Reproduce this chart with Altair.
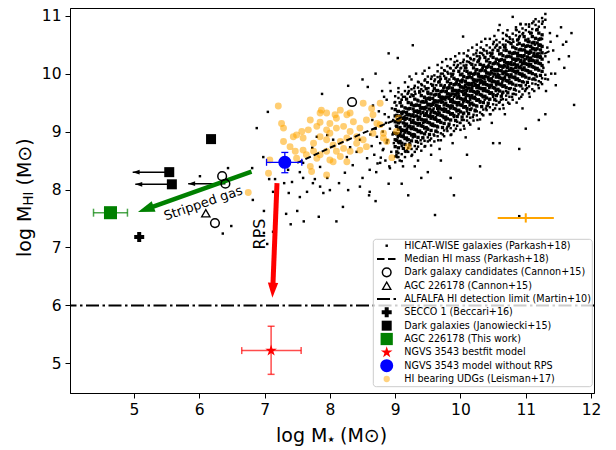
import math
import altair as alt
import pandas as pd

# ------------------------------------------------------------------ data
HICAT = [
 (8.62,8.95),(8.65,9.2),(8.68,8.6),(8.7,9.05),(8.73,8.45),(8.75,9.35),(8.77,8.8),(8.79,9.1),(8.64,8.75),(8.71,8.3),(8.66,9.45),(8.78,8.55),
 (8.81,9.0),(8.82,8.7),(8.84,9.3),(8.85,8.5),(8.86,9.15),(8.87,9.55),(8.88,8.85),(8.9,9.25),(8.91,8.4),(8.92,9.05),(8.93,9.7),(8.94,8.65),(8.95,9.4),(8.96,8.95),(8.97,9.2),(8.98,8.8),(8.99,9.5),(8.83,9.6),
 (9.01,9.1),(9.02,8.6),(9.03,9.35),(9.04,8.9),(9.05,9.75),(9.06,9.2),(9.07,8.5),(9.08,9.5),(9.09,9.0),(9.1,8.75),(9.11,9.3),(9.12,9.6),(9.13,8.95),(9.14,9.15),(9.15,9.85),(9.16,8.65),(9.17,9.4),(9.18,9.05),(9.19,9.65),(9.02,9.45),(9.06,8.8),(9.1,9.55),(9.14,9.25),(9.18,8.85),(9.12,8.4),
 (9.21,9.3),(9.22,8.8),(9.23,9.6),(9.24,9.05),(9.25,9.9),(9.26,8.6),(9.27,9.45),(9.28,9.15),(9.29,9.75),(9.3,8.95),(9.31,9.35),(9.32,10.0),(9.33,8.7),(9.34,9.55),(9.35,9.2),(9.36,9.85),(9.37,9.0),(9.38,9.4),(9.39,8.85),(9.21,9.7),(9.23,9.1),(9.25,9.5),(9.27,8.9),(9.29,9.25),(9.31,9.65),(9.33,9.45),(9.35,8.5),(9.37,9.7),(9.39,9.3),(9.22,9.95),
 (9.41,9.4),(9.42,8.9),(9.43,9.7),(9.44,9.2),(9.45,10.05),(9.46,8.75),(9.47,9.55),(9.48,9.3),(9.49,9.85),(9.5,9.05),(9.51,9.45),(9.52,10.1),(9.53,8.85),(9.54,9.65),(9.55,9.25),(9.56,9.95),(9.57,9.1),(9.58,9.5),(9.59,8.95),(9.41,9.8),(9.43,9.15),(9.45,9.6),(9.47,9.0),(9.49,9.35),(9.51,9.75),(9.53,9.55),(9.55,8.6),(9.57,9.8),(9.59,9.4),(9.42,10.0),(9.44,9.5),(9.46,9.9),(9.5,9.65),(9.54,9.3),(9.58,9.7),
 (9.61,9.5),(9.62,9.0),(9.63,9.8),(9.64,9.3),(9.65,10.15),(9.66,8.85),(9.67,9.65),(9.68,9.4),(9.69,9.95),(9.7,9.15),(9.71,9.55),(9.72,10.2),(9.73,8.95),(9.74,9.75),(9.75,9.35),(9.76,10.05),(9.77,9.2),(9.78,9.6),(9.79,9.05),(9.61,9.9),(9.62,9.25),(9.63,9.7),(9.64,9.1),(9.65,9.45),(9.66,9.85),(9.67,9.6),(9.68,8.7),(9.69,9.9),(9.7,9.5),(9.71,10.1),(9.72,9.6),(9.73,10.0),(9.74,9.75),(9.75,9.4),(9.76,9.8),(9.77,9.55),(9.78,10.25),(9.79,9.7),(9.66,9.35),(9.74,9.25),
 (9.81,9.6),(9.82,9.1),(9.83,9.9),(9.84,9.4),(9.85,10.25),(9.86,8.95),(9.87,9.75),(9.88,9.5),(9.89,10.05),(9.9,9.25),(9.91,9.65),(9.92,10.3),(9.93,9.05),(9.94,9.85),(9.95,9.45),(9.96,10.15),(9.97,9.3),(9.98,9.7),(9.99,9.15),(9.81,10.0),(9.82,9.35),(9.83,9.8),(9.84,9.2),(9.85,9.55),(9.86,9.95),(9.87,9.7),(9.88,8.8),(9.89,10.0),(9.9,9.6),(9.91,10.2),(9.92,9.7),(9.93,10.1),(9.94,9.85),(9.95,9.5),(9.96,9.9),(9.97,9.65),(9.98,10.35),(9.99,9.8),(9.86,9.45),(9.94,9.35),(9.82,9.75),(9.88,9.55),(9.92,9.9),(9.96,9.6),(9.84,10.1),
 (10.01,9.7),(10.02,9.2),(10.03,10.0),(10.04,9.5),(10.05,10.35),(10.06,9.05),(10.07,9.85),(10.08,9.6),(10.09,10.15),(10.1,9.35),(10.11,9.75),(10.12,10.4),(10.13,9.15),(10.14,9.95),(10.15,9.55),(10.16,10.25),(10.17,9.4),(10.18,9.8),(10.19,9.25),(10.01,10.1),(10.02,9.45),(10.03,9.9),(10.04,9.3),(10.05,9.65),(10.06,10.05),(10.07,9.8),(10.08,8.9),(10.09,10.1),(10.1,9.7),(10.11,10.3),(10.12,9.8),(10.13,10.2),(10.14,9.95),(10.15,9.6),(10.16,10.0),(10.17,9.75),(10.18,10.45),(10.19,9.9),(10.06,9.55),(10.14,9.45),(10.02,9.85),(10.08,9.65),(10.12,10.0),(10.16,9.7),(10.04,10.2),
 (10.21,9.85),(10.22,9.35),(10.23,10.15),(10.24,9.65),(10.25,10.5),(10.26,9.2),(10.27,10.0),(10.28,9.75),(10.29,10.3),(10.3,9.5),(10.31,9.9),(10.32,10.55),(10.33,9.3),(10.34,10.1),(10.35,9.7),(10.36,10.4),(10.37,9.55),(10.38,9.95),(10.39,9.4),(10.21,10.25),(10.22,9.6),(10.23,10.05),(10.24,9.45),(10.25,9.8),(10.26,10.2),(10.27,9.95),(10.28,9.05),(10.29,10.25),(10.3,9.85),(10.31,10.45),(10.32,9.95),(10.33,10.35),(10.34,10.1),(10.35,9.75),(10.36,10.15),(10.37,9.9),(10.38,10.6),(10.39,10.05),(10.26,9.7),(10.34,9.6),(10.22,10.0),(10.28,9.8),(10.32,10.15),(10.36,9.85),(10.24,10.35),
 (10.41,9.95),(10.42,9.45),(10.43,10.25),(10.44,9.75),(10.45,10.6),(10.46,9.3),(10.47,10.1),(10.48,9.85),(10.49,10.4),(10.5,9.6),(10.51,10.0),(10.52,10.65),(10.53,9.4),(10.54,10.2),(10.55,9.8),(10.56,10.5),(10.57,9.65),(10.58,10.05),(10.59,9.5),(10.41,10.35),(10.42,9.7),(10.43,10.15),(10.44,9.55),(10.45,9.9),(10.46,10.3),(10.47,10.05),(10.48,9.15),(10.49,10.35),(10.5,9.95),(10.51,10.55),(10.52,10.05),(10.53,10.45),(10.54,10.2),(10.55,9.85),(10.56,10.25),(10.57,10.0),(10.58,10.75),(10.59,10.15),(10.46,9.8),(10.54,9.7),
 (10.61,10.05),(10.62,9.55),(10.63,10.35),(10.64,9.85),(10.65,10.7),(10.66,9.4),(10.67,10.2),(10.68,9.95),(10.69,10.5),(10.7,9.7),(10.71,10.1),(10.72,10.75),(10.73,9.5),(10.74,10.3),(10.75,9.9),(10.76,10.6),(10.77,9.75),(10.78,10.15),(10.79,9.6),(10.61,10.45),(10.62,9.8),(10.63,10.25),(10.64,9.65),(10.65,10.0),(10.66,10.4),(10.67,10.15),(10.68,9.3),(10.69,10.45),(10.7,10.05),(10.71,10.65),(10.72,10.15),(10.73,10.55),(10.74,10.3),(10.75,9.95),(10.76,10.35),
 (10.81,10.15),(10.82,9.65),(10.83,10.45),(10.84,9.95),(10.85,10.8),(10.86,9.5),(10.87,10.3),(10.88,10.05),(10.89,10.6),(10.9,9.8),(10.91,10.2),(10.92,10.85),(10.93,9.6),(10.94,10.4),(10.95,10.0),(10.96,10.7),(10.97,9.85),(10.98,10.25),(10.99,9.7),(10.81,10.55),(10.83,10.35),(10.85,10.1),(10.87,10.5),(10.89,10.25),(10.91,10.65),(10.93,10.3),(10.95,9.4),(10.97,10.5),(10.99,10.4),(10.86,10.75),
 (11.01,10.25),(11.02,9.75),(11.03,10.55),(11.04,10.05),(11.05,10.85),(11.06,9.6),(11.07,10.4),(11.08,10.15),(11.09,10.7),(11.1,9.9),(11.11,10.3),(11.12,10.9),(11.13,9.7),(11.14,10.5),(11.15,10.1),(11.16,10.75),(11.17,9.95),(11.18,10.35),(11.19,9.8),(11.04,10.6),(11.1,10.45),(11.16,10.2),
 (11.21,10.35),(11.23,9.85),(11.25,10.6),(11.27,10.1),(11.29,10.8),(11.31,9.7),(11.33,10.45),(11.35,10.2),(11.37,10.7),(11.39,10.0),(11.22,10.5),(11.26,10.9),(11.3,10.3),(11.34,9.9),(11.38,10.55),
 (11.42,10.4),(11.45,10.0),(11.48,10.65),(11.51,10.25),(11.54,10.8),(11.57,10.5),(11.46,9.8),(11.59,10.1),
 (11.62,10.55),(11.66,10.3),(11.7,10.7),(11.74,9.46),
 (10.8,10.98),(10.92,10.86),(10.6,10.84),(10.04,10.64),(9.27,10.49),(9.04,10.27),(8.92,9.84),(8.7,10.0),(8.9,10.35),(8.5,9.9),(8.8,9.7),
 (9.61,7.56),(10.9,7.54),(9.85,8.2),(10.3,8.4),(10.9,8.7),(11.3,9.3),(11.0,9.05),(10.6,8.8),(9.4,8.2),(9.1,8.1),(8.6,7.9),(9.9,7.9),
 (8.2,7.7),(8.7,7.8),(9.2,7.9),(8.9,8.1),(9.5,8.3),(9.7,8.5),(10.1,8.6),(10.5,8.8),(11.2,9.2),(9.3,8.4),(8.5,8.2),(8.1,7.45),(7.6,7.45),
 (6.44,8.37),(6.81,8.37),(6.01,8.23),(6.82,7.82),(6.99,7.63),(6.49,7.37),(6.36,7.24),(6.99,7.25),(7.04,7.06),(6.98,8.56),(7.13,7.96),
 (7.13,7.27),(7.4,7.4),(7.33,7.58),(7.5,7.63),(7.42,8.13),(7.65,7.96),(7.83,7.53),(7.9,7.94),(7.59,8.2),(7.74,8.11),(7.96,8.2),
 (7.36,8.34),(7.07,8.18),(7.16,8.18),(8.28,9.79),(8.58,9.77),(7.88,9.65),(7.05,9.34),(6.88,9.06),(7.3,8.11),(7.37,7.94),(7.54,7.87),
 (7.77,8.18),(7.85,8.05),(8.0,7.99),(8.14,8.11),(8.28,7.99),(8.46,8.05),(8.61,7.96),(8.23,8.29),(8.35,8.42),(8.61,8.34),(8.77,8.46),
 (8.92,8.37),(9.03,8.56),(9.18,8.68),(8.57,8.54),(8.41,8.65),(8.31,8.73),(8.81,8.68),(8.05,8.86),(7.96,8.94),(7.80,8.91),(7.73,8.72),
 (7.59,8.46),(7.54,8.3),(7.85,8.39),(8.26,8.56),(8.46,8.86),(8.72,8.91),(8.87,8.81),(8.97,8.98),
]

# fringe of the HICAT core: (log M*, [log MHI values])
HICAT_FRINGE = [
 (9.00,[8.47,8.57,9.51,9.61]),(9.05,[8.56,8.63,9.58,9.68]),(9.10,[8.49,8.61,9.55,9.64]),(9.15,[8.56,8.66,9.60,9.70]),
 (9.20,[8.65,8.72,9.67,9.77]),(9.25,[8.58,8.70,9.64,9.73]),(9.30,[8.65,8.75,9.69,9.79]),(9.35,[8.74,8.81,9.76,9.86]),
 (9.40,[8.67,8.79,9.73,9.82]),(9.45,[8.74,8.84,9.78,9.88]),(9.50,[8.83,8.90,9.85,9.95]),(9.55,[8.76,8.88,9.82,9.91]),
 (9.60,[8.83,8.93,9.87,9.97]),(9.65,[8.92,8.99,9.94,10.04]),(9.70,[8.85,8.97,9.91,10.00]),(9.75,[8.92,9.02,9.96,10.06]),
 (9.80,[9.01,9.08,10.03,10.13]),(9.85,[8.94,9.06,10.00,10.09]),(9.90,[9.01,9.11,10.05,10.15]),(9.95,[9.10,9.17,10.12,10.22]),
 (10.00,[9.03,9.15,10.09,10.18]),(10.05,[9.10,9.20,10.14,10.24]),(10.10,[9.19,9.26,10.21,10.31]),(10.15,[9.12,9.24,10.18,10.27]),
 (10.20,[9.19,9.29,10.23,10.33]),(10.25,[9.28,9.35,10.30,10.40]),(10.30,[9.21,9.33,10.27,10.36]),(10.35,[9.28,9.38,10.32,10.42]),
 (10.40,[9.37,9.44,10.39,10.49]),(10.45,[9.30,9.42,10.36,10.45]),(10.50,[9.37,9.47,10.41,10.51]),(10.55,[9.46,9.53,10.48,10.58]),
 (10.60,[9.39,9.51,10.45,10.54]),(10.65,[9.46,9.56,10.50,10.60]),(10.70,[9.55,9.62,10.57,10.67]),(10.75,[9.48,9.60,10.54,10.63]),
 (10.80,[9.55,9.65,10.59,10.69]),(10.85,[9.64,9.71,10.66,10.76]),(10.90,[9.57,9.69,10.63,10.72]),(10.95,[9.64,9.74,10.68,10.78]),
 (11.00,[9.73,9.80,10.75,10.85]),(11.05,[9.66,9.78,10.72,10.81]),(11.10,[9.73,9.83,10.77,10.87]),(11.15,[9.82,9.89,10.84,10.94]),
 (11.20,[9.75,9.87,10.81,10.90]),(11.25,[9.82,9.92,10.86,10.96]),(11.30,[9.91,9.98,10.93,11.03]),
]

# dense core of the HICAT cloud: (log M*, [log MHI values])
HICAT_CORE = [
 (9.000,[8.74,8.97,9.17,9.38,8.86,9.27]),(9.025,[8.85,9.09,9.28,8.65,8.96,9.17]),(9.050,[8.93,9.15,9.35,8.72,8.82,9.04]),
 (9.075,[8.83,9.07,9.27,9.50,8.96,9.17]),(9.100,[8.80,9.03,9.23,9.44,8.92,9.33]),(9.125,[8.91,9.15,9.34,8.71,9.02,9.23]),
 (9.150,[8.99,9.21,9.41,8.78,8.88,9.10]),(9.175,[8.89,9.13,9.33,9.56,9.02,9.23]),(9.200,[8.86,9.09,9.29,9.50,8.98,9.39]),
 (9.225,[8.97,9.21,9.40,8.77,9.08,9.29]),(9.250,[9.05,9.27,9.47,8.84,8.94,9.16]),(9.275,[8.95,9.19,9.39,9.62,9.08,9.29]),
 (9.300,[8.92,9.15,9.35,9.56,9.04,9.45]),(9.325,[9.03,9.27,9.46,8.83,9.14,9.35]),(9.350,[9.11,9.33,9.53,8.90,9.00,9.22]),
 (9.375,[9.01,9.25,9.45,9.68,9.14,9.35]),(9.400,[8.98,9.21,9.41,9.62,9.10,9.51]),(9.425,[9.09,9.33,9.52,8.89,9.20,9.41]),
 (9.450,[9.17,9.39,9.59,8.96,9.06,9.28]),(9.475,[9.07,9.31,9.51,9.74,9.20,9.41]),(9.500,[9.04,9.27,9.47,9.68,9.16,9.57]),
 (9.525,[9.15,9.39,9.58,8.95,9.26,9.47]),(9.550,[9.23,9.45,9.65,9.02,9.12,9.34]),(9.575,[9.13,9.37,9.57,9.80,9.26,9.47]),
 (9.600,[9.10,9.33,9.53,9.74,9.22,9.63]),(9.625,[9.21,9.45,9.64,9.01,9.32,9.53]),(9.650,[9.29,9.51,9.71,9.08,9.18,9.40]),
 (9.675,[9.19,9.43,9.63,9.86,9.32,9.53]),(9.700,[9.16,9.39,9.59,9.80,9.28,9.69]),(9.725,[9.27,9.51,9.70,9.07,9.38,9.59]),
 (9.750,[9.35,9.57,9.77,9.14,9.24,9.46]),(9.775,[9.25,9.49,9.69,9.92,9.38,9.59]),(9.800,[9.22,9.45,9.65,9.86,9.34,9.75]),
 (9.825,[9.33,9.57,9.76,9.13,9.44,9.65]),(9.850,[9.41,9.63,9.83,9.20,9.30,9.52]),(9.875,[9.31,9.55,9.75,9.98,9.44,9.65]),
 (9.900,[9.28,9.51,9.71,9.92,9.40,9.81]),(9.925,[9.39,9.63,9.82,9.19,9.50,9.71]),(9.950,[9.47,9.69,9.89,9.26,9.36,9.58]),
 (9.975,[9.37,9.61,9.81,10.04,9.50,9.71]),(10.000,[9.34,9.57,9.77,9.98,9.46,9.87]),(10.025,[9.45,9.69,9.88,9.25,9.56,9.77]),
 (10.050,[9.53,9.75,9.95,9.32,9.42,9.64]),(10.075,[9.43,9.67,9.87,10.10,9.56,9.77]),(10.100,[9.40,9.63,9.83,10.04,9.52,9.93]),
 (10.125,[9.51,9.75,9.94,9.31,9.62,9.83]),(10.150,[9.59,9.81,10.01,9.38,9.48,9.70]),(10.175,[9.49,9.73,9.93,10.16,9.62,9.83]),
 (10.200,[9.46,9.69,9.89,10.10,9.58,9.99]),(10.225,[9.57,9.81,10.00,9.37,9.68,9.89]),(10.250,[9.65,9.87,10.07,9.44,9.54,9.76]),
 (10.275,[9.55,9.79,9.99,10.22,9.68,9.89]),(10.300,[9.52,9.75,9.95,10.16,9.64,10.05]),(10.325,[9.63,9.87,10.06,9.43,9.74,9.95]),
 (10.350,[9.71,9.93,10.13,9.50,9.60,9.82]),(10.375,[9.61,9.85,10.05,10.28,9.74,9.95]),(10.400,[9.58,9.81,10.01,10.22,9.70,10.11]),
 (10.425,[9.69,9.93,10.12,9.49,9.80,10.01]),(10.450,[9.77,9.99,10.19,9.56,9.66,9.88]),(10.475,[9.67,9.91,10.11,10.34,9.80,10.01]),
 (10.500,[9.64,9.87,10.07,10.28,9.76,10.17]),(10.525,[9.75,9.99,10.18,9.55,9.86,10.07]),(10.550,[9.83,10.05,10.25,9.62,9.72,9.94]),
 (10.575,[9.73,9.97,10.17,10.40,9.86,10.07]),(10.600,[9.70,9.93,10.13,10.34,9.82,10.23]),(10.625,[9.81,10.05,10.24,9.61,9.92,10.13]),
 (10.650,[9.89,10.11,10.31,9.68,9.78,10.00]),(10.675,[9.79,10.03,10.23,10.46,9.92,10.13]),(10.700,[9.76,9.99,10.19,10.40,9.88,10.29]),
 (10.725,[9.87,10.11,10.30,9.67,9.98,10.19]),(10.750,[9.95,10.17,10.37,9.74,9.84,10.06]),(10.775,[9.85,10.09,10.29,10.52,9.98,10.19]),
 (10.800,[9.82,10.05,10.25,10.46,9.94,10.35]),(10.825,[9.93,10.17,10.36,9.73,10.04,10.25]),(10.850,[10.01,10.23,10.43,9.80,9.90,10.12]),
 (10.875,[9.91,10.15,10.35,10.58,10.04,10.25]),(10.900,[9.88,10.11,10.31,10.52,10.00,10.41]),(10.925,[9.99,10.23,10.42,9.79,10.10,10.31]),
 (10.950,[10.07,10.29,10.49,9.86,9.96,10.18]),(10.975,[9.97,10.21,10.41,10.64,10.10,10.31]),(11.000,[9.94,10.17,10.37,10.58,10.06,10.47]),
 (11.025,[10.05,10.29,10.48,9.85,10.16,10.37]),(11.050,[10.13,10.35,10.55,9.92,10.02,10.24]),(11.075,[10.03,10.27,10.47,10.70,10.16,10.37]),
 (11.100,[10.00,10.23,10.43,10.64,10.12,10.53]),(11.125,[10.11,10.35,10.54,9.91,10.22,10.43]),(11.150,[10.19,10.41,10.61,9.98,10.08,10.30]),
 (11.175,[10.09,10.33,10.53,10.76,10.22,10.43]),(11.200,[10.06,10.29,10.49,10.70,10.18,10.59]),(11.225,[10.17,10.41,10.60,9.97,10.28,10.49]),
 (11.250,[10.25,10.47,10.67,10.04,10.14,10.36]),
]

UDG = [
 (7.21,9.44),(7.26,9.14),(7.29,9.06),(7.49,8.94),(7.44,8.91),(7.57,9.0),(7.59,8.89),(7.70,9.20),(7.85,9.32),(7.87,9.37),
 (7.85,9.16),(8.0,9.14),(8.08,9.29),(8.10,9.23),(8.31,9.32),(8.26,9.29),(8.51,9.49),(8.64,9.40),(8.77,9.49),(8.66,9.29),
 (7.95,9.03),(8.10,9.06),(8.21,9.09),(8.36,9.17),(8.46,9.06),(8.31,9.0),(8.0,8.97),(7.85,8.91),(7.75,8.80),(7.95,8.86),
 (8.05,8.77),(8.16,8.83),(8.26,8.89),(8.41,8.91),(8.51,8.86),(8.66,8.97),(8.82,8.97),(8.82,8.89),(9.02,9.0),(9.05,9.23),
 (9.20,8.74),(7.59,8.68),(7.47,8.66),(7.75,8.66),(7.85,8.60),(7.95,8.66),(8.10,8.66),(8.21,8.71),(8.31,8.66),(8.46,8.68),
 (8.56,8.74),(8.16,8.57),(8.0,8.51),(7.80,8.54),(7.64,8.60),(7.70,8.40),(7.95,8.25),(7.72,8.31),(7.06,8.28),(7.08,8.51),
 (7.49,8.54),(7.39,8.74),(7.29,8.83),(8.05,8.48),(8.26,8.48),(8.41,8.80),(8.72,9.14),(8.56,9.20),(8.77,9.12),(8.87,8.83),
 (7.80,9.09),(7.67,9.03),(8.16,9.37),(7.95,9.32),(6.75,7.95),(8.95,8.55),
]

MEDIAN_X = [7.5, 8.0, 8.5, 9.0, 9.5, 10.0, 10.5, 11.0, 11.4]
MEDIAN_Y = [8.46, 8.72, 8.97, 9.2, 9.45, 9.68, 9.93, 10.18, 10.41]
ALFALFA_LIMIT = [6.0]

CANNON_X = [6.35, 6.40, 6.24, 8.34]
CANNON_Y = [8.23, 8.10, 7.42, 9.51]
AGC_CANNON_X, AGC_CANNON_Y = [6.10], [7.59]
SECCO_X, SECCO_Y = [5.08], [7.18]
JANOW_X = [5.54, 5.58, 6.18]
JANOW_Y = [8.30, 8.09, 8.87]

LIMIT_X0 = [5.54, 5.58, 6.40]
LIMIT_X1 = [4.98, 5.02, 5.83]
LIMIT_Y = [8.30, 8.09, 8.10]

AGC_THIS = dict(x=4.64, y=7.60, xlo=4.38, xhi=4.90)
NGVS_BEST = dict(x=7.10, y=5.22, xlo=6.65, xhi=7.56, ylo=4.81, yhi=5.64)
NGVS_NORPS = dict(x=7.31, y=8.47, xlo=7.03, xhi=7.57, ylo=8.29, yhi=8.64)
UDG_ERR = dict(x=11.0, y=7.51, xlo=10.57, xhi=11.43, ylo=7.43, yhi=7.59)

GREEN_ARROW = dict(x0=6.80, y0=8.31, x1=5.06, y1=7.61)
RED_ARROW = dict(x0=7.19, y0=8.11, x1=7.12, y1=6.13)

LEGEND_LABELS = [
    "HICAT-WISE galaxies (Parkash+18)",
    "Median HI mass (Parkash+18)",
    "Dark galaxy candidates (Cannon+15)",
    "AGC 226178 (Cannon+15)",
    "ALFALFA HI detection limit (Martin+10)",
    "SECCO 1 (Beccari+16)",
    "Dark galaxies (Janowiecki+15)",
    "AGC 226178 (This work)",
    "NGVS 3543 bestfit model",
    "NGVS 3543 model without RPS",
    "HI bearing UDGs (Leisman+17)",
]

# ------------------------------------------------------------------ geometry
W, H = 524, 385
XMIN, XMAX = 4.02, 12.045
YMIN, YMAX = 4.488, 11.133
KX = W / (XMAX - XMIN)
KY = H / (YMAX - YMIN)
FONT = "DejaVu Sans"

def px_x(p):
    return XMIN + p / KX

def px_y(p):
    return YMAX - p / KY

XS = alt.Scale(domain=[XMIN, XMAX], nice=False, zero=False)
YS = alt.Scale(domain=[YMIN, YMAX], nice=False, zero=False)
XAX = alt.Axis(values=[5, 6, 7, 8, 9, 10, 11, 12], title=None, format="d")
YAX = alt.Axis(values=[5, 6, 7, 8, 9, 10, 11], title=None, format="d")

def X(f="x"):
    return alt.X(f"{f}:Q", scale=XS, axis=XAX)

def Y(f="y"):
    return alt.Y(f"{f}:Q", scale=YS, axis=YAX)

ONE = pd.DataFrame({"a": [0]})

ARROW_PATH = "M0,0L0.75,2.2L-0.75,2.2Z"
STAR_PATH = ("M0,-1L0.2245,-0.309L0.951,-0.309L0.363,0.118L0.588,0.809L0,0.382"
             "L-0.588,0.809L-0.363,0.118L-0.951,-0.309L-0.2245,-0.309Z")

def arrow(a, color, width, head_len, head_size):
    ux = (a["x1"] - a["x0"]) * KX
    uy = -(a["y1"] - a["y0"]) * KY
    n = math.hypot(ux, uy)
    ux, uy = ux / n, uy / n
    bx = a["x1"] - head_len * ux / KX
    by = a["y1"] + head_len * uy / KY
    ang = (math.degrees(math.atan2(ux, -uy)) + 360) % 360
    shaft = alt.Chart(pd.DataFrame({"x": [a["x0"]], "y": [a["y0"]], "x2": [bx], "y2": [by]})).mark_rule(
        color=color, strokeWidth=width).encode(x=X(), y=Y(), x2="x2:Q", y2="y2:Q")
    head = alt.Chart(pd.DataFrame({"x": [a["x1"]], "y": [a["y1"]]})).mark_point(
        shape=ARROW_PATH, filled=True, color=color, opacity=1, size=head_size, angle=ang,
        strokeWidth=0).encode(x=X(), y=Y())
    return [shaft, head]

def errbars(d, color, cap, width=1.5, opacity=1.0, with_y=True, caps=True):
    layers = []
    row = pd.DataFrame([d])
    layers.append(alt.Chart(row).mark_rule(color=color, strokeWidth=width, opacity=opacity).encode(
        x=X("xlo"), x2="xhi:Q", y=Y()))
    if with_y:
        layers.append(alt.Chart(row).mark_rule(color=color, strokeWidth=width, opacity=opacity).encode(
            x=X(), y=Y("ylo"), y2="yhi:Q"))
    if caps:
        cx = pd.DataFrame({"x": [d["xlo"], d["xhi"]], "y": [d["y"], d["y"]]})
        layers.append(alt.Chart(cx).mark_tick(orient="vertical", color=color, size=cap, thickness=width,
                                               opacity=opacity).encode(x=X(), y=Y()))
        if with_y:
            cy = pd.DataFrame({"x": [d["x"], d["x"]], "y": [d["ylo"], d["yhi"]]})
            layers.append(alt.Chart(cy).mark_tick(orient="horizontal", color=color, size=cap, thickness=width,
                                                   opacity=opacity).encode(x=X(), y=Y()))
    return layers

layers = []

# HICAT cloud: sparse outskirts, fringe and crowded core
sparse = list(HICAT) + [(cx, cy) for cx, ys in HICAT_FRINGE for cy in ys]
hic = pd.DataFrame(sparse, columns=["x", "y"])
layers.append(alt.Chart(hic).mark_square(size=6, color="black", opacity=1).encode(x=X(), y=Y()))
core = pd.DataFrame([(cx, cy) for cx, ys in HICAT_CORE for cy in ys], columns=["x", "y"])
layers.append(alt.Chart(core).mark_square(size=11, color="black", opacity=1).encode(x=X(), y=Y()))

udg = pd.DataFrame(UDG, columns=["x", "y"])
layers.append(alt.Chart(udg).mark_circle(size=48, color="#FFA500", opacity=0.55).encode(x=X(), y=Y()))

med = pd.DataFrame({"x": MEDIAN_X, "y": MEDIAN_Y})
layers.append(alt.Chart(med).mark_line(color="black", strokeDash=[6, 3], strokeWidth=2).encode(x=X(), y=Y()))

layers.append(alt.Chart(pd.DataFrame({"y": ALFALFA_LIMIT})).mark_rule(
    color="black", strokeWidth=2, strokeDash=[13, 3.5, 2.5, 3.5]).encode(y=Y()))

lim = pd.DataFrame({"x": LIMIT_X0, "x2": LIMIT_X1, "y": LIMIT_Y})
layers.append(alt.Chart(lim).mark_rule(color="black", strokeWidth=1.5).encode(x=X(), x2="x2:Q", y=Y()))
limh = pd.DataFrame({"x": LIMIT_X1, "y": LIMIT_Y})
layers.append(alt.Chart(limh).mark_point(shape=ARROW_PATH, filled=True, color="black", opacity=1,
                                         size=40, angle=270, strokeWidth=0).encode(x=X(), y=Y()))

layers += arrow(GREEN_ARROW, "green", 4.5, 14, 230)
layers += arrow(RED_ARROW, "red", 5, 14, 190)

layers += errbars(AGC_THIS, "green", 8, width=1.5, opacity=0.7, with_y=False)
layers += errbars(NGVS_BEST, "red", 7, width=1.5, opacity=0.7)
layers += errbars(NGVS_NORPS, "blue", 7, width=1.3)
layers += errbars(UDG_ERR, "#FFA500", 0, width=2, caps=False)

layers.append(alt.Chart(pd.DataFrame({"x": CANNON_X, "y": CANNON_Y})).mark_point(
    shape="circle", size=75, color="black", strokeWidth=1.5, filled=False, opacity=1).encode(x=X(), y=Y()))
layers.append(alt.Chart(pd.DataFrame({"x": AGC_CANNON_X, "y": AGC_CANNON_Y})).mark_point(
    shape="triangle-up", size=70, color="black", strokeWidth=1.3, filled=False, opacity=1).encode(x=X(), y=Y()))
layers.append(alt.Chart(pd.DataFrame({"x": SECCO_X, "y": SECCO_Y})).mark_point(
    shape="cross", size=100, color="black", filled=True, opacity=1).encode(x=X(), y=Y()))
layers.append(alt.Chart(pd.DataFrame({"x": JANOW_X, "y": JANOW_Y})).mark_square(
    size=100, color="black", opacity=1).encode(x=X(), y=Y()))
layers.append(alt.Chart(pd.DataFrame({"x": [AGC_THIS["x"]], "y": [AGC_THIS["y"]]})).mark_square(
    size=170, color="green", opacity=1).encode(x=X(), y=Y()))
layers.append(alt.Chart(pd.DataFrame({"x": [NGVS_BEST["x"]], "y": [NGVS_BEST["y"]]})).mark_point(
    shape=STAR_PATH, size=150, color="red", filled=True, opacity=1).encode(x=X(), y=Y()))
layers.append(alt.Chart(pd.DataFrame({"x": [NGVS_NORPS["x"]], "y": [NGVS_NORPS["y"]]})).mark_circle(
    size=170, color="blue", opacity=1).encode(x=X(), y=Y()))

layers.append(alt.Chart(pd.DataFrame({"x": [6.06], "y": [7.76], "t": ["Stripped gas"]})).mark_text(
    font=FONT, fontSize=13, angle=341, align="center", baseline="middle", color="black").encode(
    x=X(), y=Y(), text="t:N"))
layers.append(alt.Chart(pd.DataFrame({"x": [6.925], "y": [7.233], "t": ["RPS"]})).mark_text(
    font=FONT, fontSize=16, angle=270, align="center", baseline="middle", color="black").encode(
    x=X(), y=Y(), text="t:N"))

# ---------------- legend
LX0, LX1, LY0, LY1 = 303.3, 522.3, 231.3, 378.7
layers.append(alt.Chart(ONE).mark_rect(fill="white", fillOpacity=0.8, stroke="#cccccc", strokeWidth=1,
                                       cornerRadius=3).encode(
    x=alt.value(LX0), x2=alt.value(LX1), y=alt.value(LY0), y2=alt.value(LY1)))
rows = [237.7 + 13.33 * i for i in range(len(LEGEND_LABELS))]
SX = 316.7

def vpt(mark, i):
    return alt.Chart(ONE).mark_point(**mark).encode(x=alt.value(SX), y=alt.value(rows[i]))

layers.append(alt.Chart(ONE).mark_square(size=6, color="black", opacity=1).encode(
    x=alt.value(SX), y=alt.value(rows[0])))
layers.append(alt.Chart(ONE).mark_rule(color="black", strokeWidth=2, strokeDash=[7.5, 3.5]).encode(
    x=alt.value(307), x2=alt.value(326.7), y=alt.value(rows[1])))
layers.append(vpt(dict(shape="circle", size=75, color="black", strokeWidth=1.5, filled=False, opacity=1), 2))
layers.append(vpt(dict(shape="triangle-up", size=70, color="black", strokeWidth=1.3, filled=False, opacity=1), 3))
layers.append(alt.Chart(ONE).mark_rule(color="black", strokeWidth=2, strokeDash=[13, 3.5, 2.5, 3.5]).encode(
    x=alt.value(307), x2=alt.value(326.7), y=alt.value(rows[4])))
layers.append(vpt(dict(shape="cross", size=100, color="black", filled=True, opacity=1), 5))
layers.append(vpt(dict(shape="square", size=100, color="black", filled=True, opacity=1), 6))
layers.append(vpt(dict(shape="square", size=150, color="green", filled=True, opacity=1), 7))
layers.append(vpt(dict(shape=STAR_PATH, size=150, color="red", filled=True, opacity=1), 8))
layers.append(vpt(dict(shape="circle", size=170, color="blue", filled=True, opacity=1), 9))
layers.append(vpt(dict(shape="circle", size=40, color="#FFA500", filled=True, opacity=0.5), 10))

leg = pd.DataFrame({"x": [px_x(334.3)] * len(rows), "y": [px_y(r) for r in rows], "t": LEGEND_LABELS})
layers.append(alt.Chart(leg).mark_text(font=FONT, fontSize=9.6, align="left", baseline="middle",
                                       color="black").encode(x=X(), y=Y(), text="t:N"))

# ---------------- axis titles (with sub-scripts)
def vtext(txt, x, y, size, angle=0):
    return alt.Chart(ONE).mark_text(text=txt, font=FONT, fontSize=size, angle=angle, align="left",
                                    baseline="middle", color="black").encode(x=alt.value(x), y=alt.value(y))

layers.append(vtext("log M", -45, 249, 19, 270))
layers.append(vtext("HI", -41, 197.4, 13.3, 270))
layers.append(vtext("(M⊙)", -45, 177.5, 19, 270))

layers.append(vtext("log M", 206, 428, 19))
layers.append(vtext("★", 257.6, 432, 8))
layers.append(vtext("(M⊙)", 270, 428, 19))

chart = alt.layer(*layers).properties(
    width=W, height=H, autosize="none",
    padding={"left": 62, "top": 0, "right": 14, "bottom": 57},
).configure_view(stroke="black", strokeWidth=1).configure_axis(
    labelFont=FONT, labelFontSize=15.5, labelColor="black", tickColor="black", domainColor="black",
    tickSize=5, tickWidth=1, domainWidth=1, labelPadding=4, grid=False,
)

chart.save("out.html", embed_options={"renderer": "svg", "actions": False})
